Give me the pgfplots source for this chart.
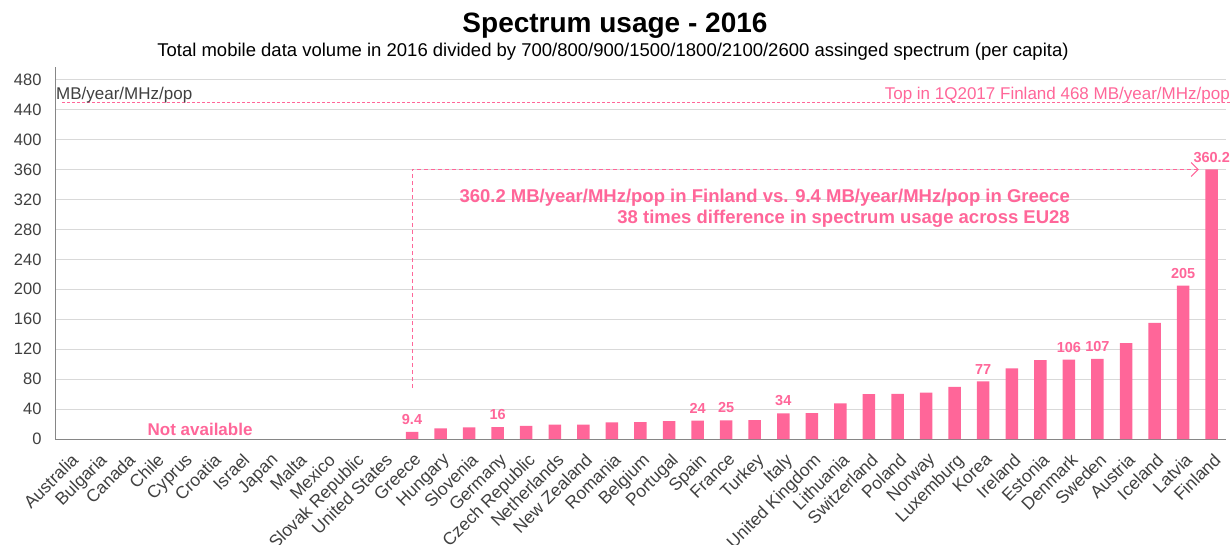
\documentclass[border=0pt]{standalone}
\usepackage{pgfplots}
\pgfplotsset{compat=1.18}
\usetikzlibrary{arrows.meta}
\usepackage{fontspec}
\setmainfont{Liberation Sans}
\definecolor{pk}{HTML}{FF6699}
\definecolor{tk}{HTML}{404040}
\definecolor{gr}{HTML}{D9D9D9}
\definecolor{ax}{HTML}{868686}
\begin{document}
\begin{tikzpicture}[x=1pt,y=1pt]
\path[use as bounding box] (0,0) rectangle (1232,544);
\node[font=\fontsize{28}{30}\selectfont\bfseries] at (615,518) {Spectrum usage - 2016};
\node[font=\fontsize{18.5}{20}\selectfont] at (613,492) {Total mobile data volume in 2016 divided by 700/800/900/1500/1800/2100/2600 assinged spectrum (per capita)};
\begin{axis}[
  at={(55pt,105pt)}, anchor=south west, scale only axis,
  width=1171pt, height=372pt,
  xmin=-0.5, xmax=40.5, ymin=0, ymax=497,
  axis lines*=left,
  axis line style={ax, line width=1pt},
  ytick={0,40,...,480},
  ymajorgrids, grid style={gr, line width=1pt},
  major tick length=0pt,
  xtick={0,...,40},
  xticklabels={Australia,Bulgaria,Canada,Chile,Cyprus,Croatia,Israel,Japan,Malta,Mexico,Slovak Republic,United States,Greece,Hungary,Slovenia,Germany,Czech Republic,Netherlands,New Zealand,Romania,Belgium,Portugal,Spain,France,Turkey,Italy,United Kingdom,Lithuania,Switzerland,Poland,Norway,Luxemburg,Korea,Ireland,Estonia,Denmark,Sweden,Austria,Iceland,Latvia,Finland},
  /pgf/number format/assume math mode=true,
  yticklabel style={font=\fontsize{16.5}{17}\selectfont, text=tk, xshift=-10pt},
  xticklabel style={xshift=1pt, yshift=-13pt, font=\fontsize{17.5}{18}\selectfont, text=tk, rotate=45, anchor=north east, inner sep=0pt},
  clip=false,
]
\addplot[ybar, bar width=12.5pt, fill=pk, draw=none] coordinates {
(12,9.4) (13,14.3) (14,15.6) (15,16) (16,17.4) (17,19.2) (18,19.3) (19,22.3) (20,22.4) (21,23.8)
(22,24.4) (23,25) (24,25.3) (25,34.4) (26,34.6) (27,47.5) (28,60) (29,60.3) (30,61.8) (31,69.5)
(32,77) (33,94.5) (34,105.5) (35,106) (36,107) (37,128) (38,155) (39,205) (40,360.2)};
\addplot[draw=none, mark=none, nodes near coords, point meta=explicit symbolic,
  nodes near coords style={font=\fontsize{14.5}{15}\selectfont\bfseries, text=pk, anchor=south, inner sep=0pt, yshift=7pt}]
  coordinates {(12,9.4)[9.4] (15,16)[16] (22,24.4)[24] (23,25)[25] (25,34.4)[34] (32,77)[77] (35,106)[106] (36,107)[107] (39,205)[205] (40,360.2)[360.2]};
\draw[pk, line width=1pt, dash pattern=on 4pt off 3pt, -{Straight Barb[length=7pt,width=14pt]}]
  (axis cs:12,68) -- (axis cs:12,360) -- (axis cs:39.55,360);
\draw[pk, line width=0.8pt, dash pattern=on 3pt off 2pt] (axis cs:-0.25,450) -- (axis cs:40.64,450);
\node[anchor=east, inner sep=0pt, text=pk, font=\fontsize{17}{18}\selectfont] at (axis cs:40.64,459) {Top in 1Q2017 Finland 468 MB/year/MHz/pop};
\node[anchor=west, inner sep=1pt, text=tk, font=\fontsize{17}{18}\selectfont] at (axis cs:-0.5,459) {MB/year/MHz/pop};
\node[anchor=east, inner sep=0pt, text=pk, font=\fontsize{18.5}{20}\selectfont\bfseries] at (axis cs:35.04,322) {360.2 MB/year/MHz/pop in Finland vs. 9.4 MB/year/MHz/pop in Greece};
\node[anchor=east, inner sep=0pt, text=pk, font=\fontsize{18.5}{20}\selectfont\bfseries] at (axis cs:35.04,294) {38 times difference in spectrum usage across EU28};
\node[inner sep=0pt, text=pk, font=\fontsize{17}{18}\selectfont\bfseries] at (axis cs:4.58,13.4) {Not available};
\end{axis}
\end{tikzpicture}
\end{document}
